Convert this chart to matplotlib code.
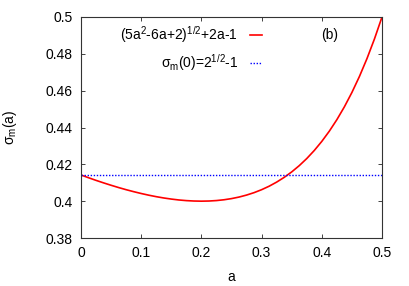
import matplotlib
matplotlib.use("Agg")
import matplotlib.pyplot as plt

a_vals = [0.0, 0.0125, 0.025, 0.0375, 0.05, 0.0625, 0.075, 0.0875, 0.1, 0.1125,
          0.125, 0.1375, 0.15, 0.1625, 0.175, 0.1875, 0.2, 0.2125, 0.225, 0.2375,
          0.25, 0.2625, 0.275, 0.2875, 0.3, 0.3125, 0.325, 0.3375, 0.35, 0.3625,
          0.375, 0.3875, 0.4, 0.4125, 0.425, 0.4375, 0.45, 0.4625, 0.475, 0.4875, 0.5]
sigma_vals = [0.41421, 0.41273, 0.41129, 0.40993, 0.40863, 0.40739, 0.40623, 0.40516,
              0.40416, 0.40325, 0.40244, 0.40173, 0.40114, 0.40065, 0.40030, 0.40008,
              0.40000, 0.40008, 0.40033, 0.40076, 0.40139, 0.40223, 0.40331, 0.40463,
              0.40623, 0.40812, 0.41035, 0.41292, 0.41588, 0.41928, 0.42314, 0.42752,
              0.43246, 0.43801, 0.44424, 0.45122, 0.45902, 0.46771, 0.47738, 0.48811,
              0.50000]
const_x = [0.0, 0.5]
const_y = [0.41421, 0.41421]
xticks = [0, 0.1, 0.2, 0.3, 0.4, 0.5]
xticklabels = ["0", "0.1", "0.2", "0.3", "0.4", "0.5"]
yticks = [0.38, 0.4, 0.42, 0.44, 0.46, 0.48, 0.5]
yticklabels = ["0.38", "0.4", "0.42", "0.44", "0.46", "0.48", "0.5"]
label1 = r"(5a$^{2}$-6a+2)$^{1/2}$+2a-1"
label2 = r"$\sigma_{\rm m}$(0)=2$^{1/2}$-1"

plt.rcParams['font.family'] = ['Liberation Sans', 'DejaVu Sans']
plt.rcParams['mathtext.fontset'] = 'custom'
plt.rcParams['mathtext.rm'] = 'Liberation Sans'
plt.rcParams['mathtext.it'] = 'Liberation Sans'
plt.rcParams['mathtext.sf'] = 'Liberation Sans'

fig = plt.figure(figsize=(4.09, 2.86), dpi=100)
ax = fig.add_axes([81/409, 1-238/286, 301/409, 221/286])

ax.plot(a_vals, sigma_vals, color='#ff0000', lw=1.2)
ax.plot(const_x, const_y, color='#0000ff', lw=1.0, linestyle=(0, (1, 1.2)))

ax.set_xlim(0, 0.5)
ax.set_ylim(0.38, 0.5)
ax.set_xticks(xticks)
ax.set_xticklabels(xticklabels)
ax.set_yticks(yticks)
ax.set_yticklabels(yticklabels)
ax.tick_params(direction='in', length=3, width=0.6, top=True, right=True,
               labelsize=10, pad=6, colors='#222222', labelcolor='black')
for s in ax.spines.values():
    s.set_linewidth(0.8)
    s.set_color('#333333')

ax.set_xlabel('a', fontsize=10)
ax.set_ylabel(r'$\sigma_{\rm m}$(a)', fontsize=10)
ax.xaxis.set_label_coords(0.5, -0.145)
ax.yaxis.set_label_coords(-0.205, 0.5)

# legend drawn manually (gnuplot style)
ax.text(0.522, 0.919, label1, transform=ax.transAxes, ha='right', va='center', fontsize=10)
ax.plot([0.561, 0.601], [0.919, 0.919], transform=ax.transAxes, color='#ff0000', lw=1.2)
ax.text(0.522, 0.792, label2, transform=ax.transAxes, ha='right', va='center', fontsize=10)
ax.plot([0.561, 0.601], [0.792, 0.792], transform=ax.transAxes, color='#0000ff', lw=1.0,
        linestyle=(0, (1, 1.2)))
ax.text(0.827, 0.919, '(b)', transform=ax.transAxes, ha='center', va='center', fontsize=10)

fig.savefig('out.png', dpi=100)
